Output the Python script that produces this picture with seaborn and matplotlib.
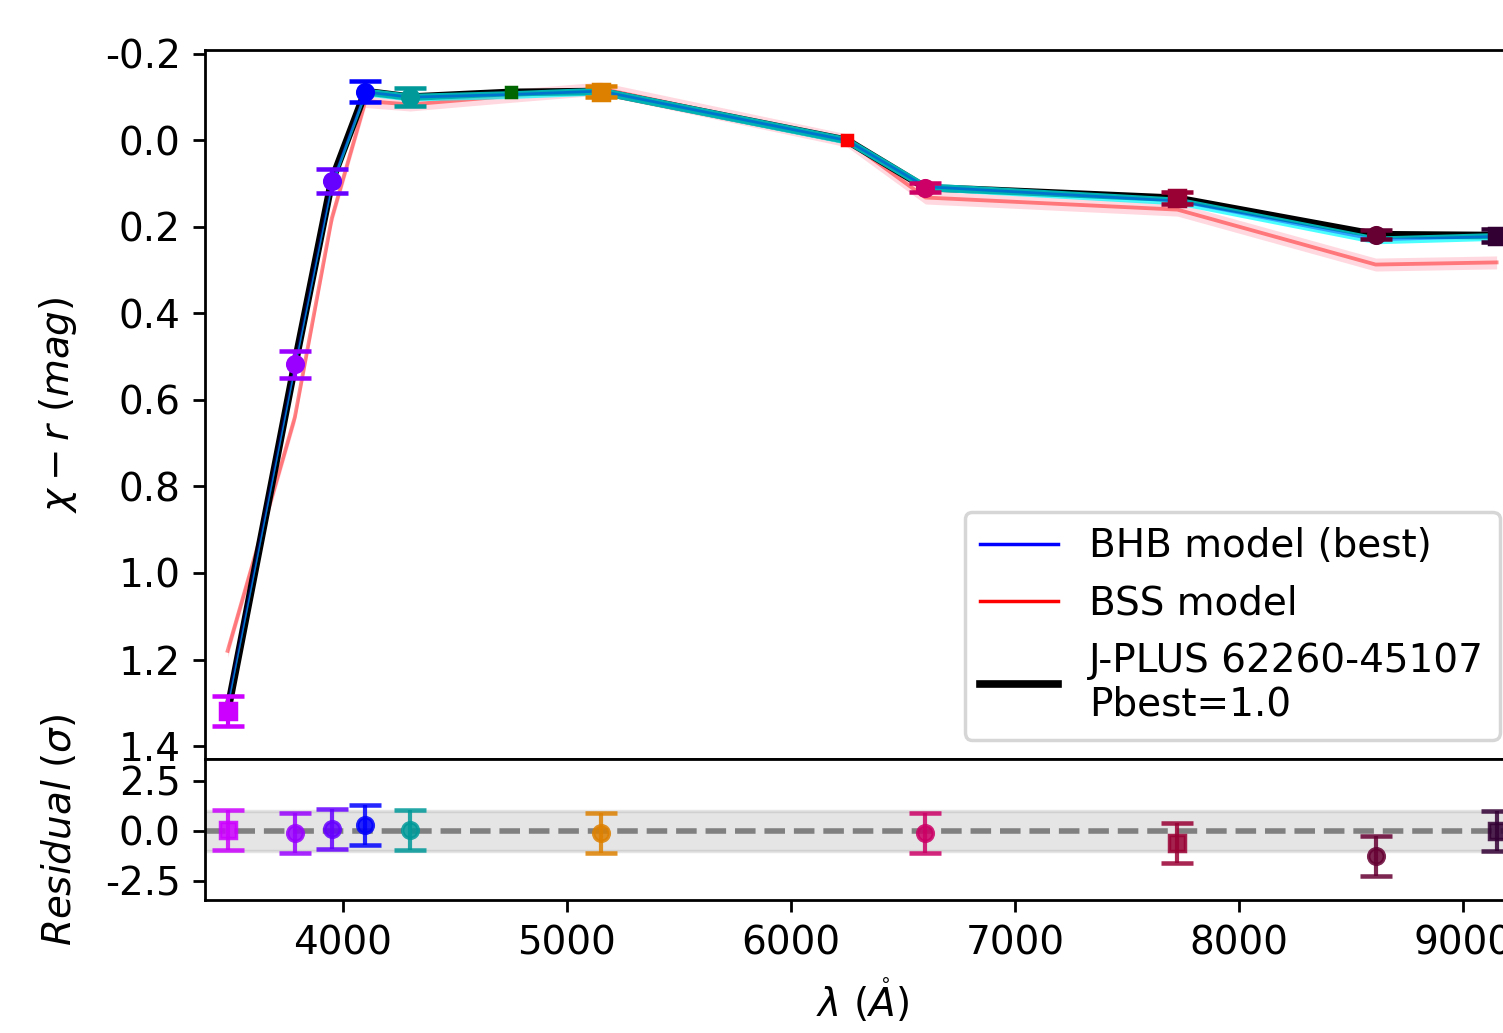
import numpy as np
import pandas as pd
import seaborn as sns
import matplotlib.pyplot as plt
from matplotlib.lines import Line2D

plt.rcParams['axes.unicode_minus'] = False
plt.rcParams['font.size'] = 11.2

# J-PLUS filter central wavelengths (Angstrom)
wave = [3485, 3785, 3950, 4100, 4300, 4750, 5150, 6250, 6600, 7725, 8610, 9150]
filter_colors = ['#CC00FF', '#9900FF', '#6600FF', '#0000FF', '#009999', '#006600',
                 '#DD8000', '#FF0000', '#CC0066', '#990033', '#660033', '#330034']
top_markers = ['s', 'o', 'o', 'o', 'o', 's', 's', 's', 'o', 's', 'o', 's']
top_msize = [4.5, 4.5, 4.5, 4.5, 4.5, 3, 4.5, 3, 4.5, 4.5, 4.5, 4.5]

# observed colours x - r and errors
obs = [1.319, 0.518, 0.093, -0.113, -0.100, -0.111, -0.113, 0.000, 0.109, 0.134, 0.218, 0.220]
obs_err = [0.035, 0.031, 0.028, 0.025, 0.020, 0.0, 0.012, 0.0, 0.010, 0.014, 0.010, 0.016]

# model colours
bhb = [1.305, 0.520, 0.100, -0.112, -0.100, -0.106, -0.114, 0.000, 0.107, 0.140, 0.230, 0.222]
bss = [1.180, 0.640, 0.180, -0.091, -0.083, -0.103, -0.120, 0.000, 0.132, 0.160, 0.287, 0.282]
bhb_width = 0.009
bss_width = 0.015

# residuals (in sigma)
res_wave = [3485, 3785, 3950, 4100, 4300, 5150, 6600, 7725, 8610, 9150]
res = [0.03, -0.10, 0.08, 0.28, 0.03, -0.10, -0.12, -0.60, -1.27, -0.02]
res_err = [1.0] * len(res_wave)
res_colors = ['#CC00FF', '#9900FF', '#6600FF', '#0000FF', '#009999',
              '#DD8000', '#CC0066', '#990033', '#660033', '#330034']
res_markers = ['s', 'o', 'o', 'o', 'o', 'o', 'o', 's', 'o', 's']

df = pd.DataFrame({'wave': wave, 'obs': obs, 'bhb': bhb, 'bss': bss})

fig = plt.figure(figsize=(6.012, 4.132), dpi=250)
left, width = 205 / 1503, 1314 / 1503
ax = fig.add_axes([left, 1 - 759 / 1033, width, 709 / 1033])
axr = fig.add_axes([left, 1 - 900 / 1033, width, 141 / 1033], sharex=ax)

# model bands
ax.fill_between(df['wave'], df['bss'] - bss_width, df['bss'] + bss_width,
                color='pink', alpha=0.6, lw=0, zorder=1)
sns.lineplot(data=df, x='wave', y='bss', color='red', alpha=0.45, lw=1.1,
             estimator=None, sort=False, ax=ax, zorder=2)
sns.lineplot(data=df, x='wave', y='obs', color='black', lw=2.2,
             estimator=None, sort=False, ax=ax, zorder=3)
ax.fill_between(df['wave'], df['bhb'] - bhb_width, df['bhb'] + bhb_width,
                color='cyan', alpha=0.7, lw=0, zorder=4)
sns.lineplot(data=df, x='wave', y='bhb', color='blue', alpha=0.35, lw=0.8,
             estimator=None, sort=False, ax=ax, zorder=5)

for i in range(len(wave)):
    if obs_err[i] > 0:
        ax.errorbar(wave[i], obs[i], yerr=obs_err[i], fmt=top_markers[i], color=filter_colors[i],
                    ms=top_msize[i], capsize=4.5, capthick=1.3, elinewidth=1.2, zorder=6)
    else:
        ax.plot(wave[i], obs[i], top_markers[i], color=filter_colors[i], ms=top_msize[i], zorder=6)

ax.set_ylim(1.43, -0.209)
ax.set_yticks(np.arange(-0.2, 1.41, 0.2))
ax.set_yticklabels(['%.1f' % v for v in np.arange(-0.2, 1.41, 0.2)])
ax.tick_params(axis='x', bottom=False, labelbottom=False)
ax.set_xlabel('')
ax.set_ylabel(r'$\chi - r\ (mag)$')
ax.yaxis.set_label_coords(-0.096, 0.5)

handles = [Line2D([], [], color='blue', lw=1),
           Line2D([], [], color='red', lw=1),
           Line2D([], [], color='black', lw=2.2)]
labels = ['BHB model (best)', 'BSS model', 'J-PLUS 62260-45107\nPbest=1.0']
ax.legend(handles, labels, loc='lower right')

# residual panel
xs = np.array([3300, 9300])
axr.fill_between(xs, -1, 1, color='gray', alpha=0.2, zorder=0)
axr.axhline(0, color='gray', ls='--', lw=1.6, zorder=1)
for i in range(len(res_wave)):
    axr.errorbar(res_wave[i], res[i], yerr=res_err[i], fmt=res_markers[i], color=res_colors[i],
                 ms=4.5, capsize=4.5, capthick=1.3, elinewidth=1.2, alpha=0.85, zorder=3)

axr.set_ylim(-3.47, 3.6)
axr.set_yticks([2.5, 0.0, -2.5])
axr.set_yticklabels(['2.5', '0.0', '-2.5'])
axr.set_xlim(3384, 9250)
axr.set_xticks([4000, 5000, 6000, 7000, 8000, 9000])
axr.set_xlabel(r'$\lambda\ (\mathring{A})$')
axr.set_ylabel(r'$Residual\ (\sigma)$')
axr.yaxis.set_label_coords(-0.096, 0.5)

fig.savefig('out.png', dpi=250)
